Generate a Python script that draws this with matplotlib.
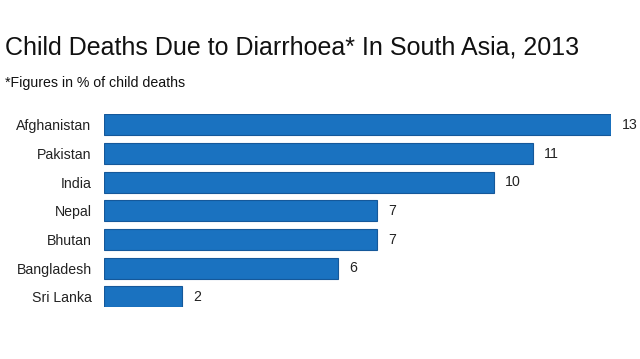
import matplotlib.pyplot as plt
import numpy as np

plt.rcParams['font.family'] = ['Liberation Sans', 'DejaVu Sans']

countries = ["Afghanistan", "Pakistan", "India", "Nepal", "Bhutan", "Bangladesh", "Sri Lanka"]
deaths = [13, 11, 10, 7, 7, 6, 2]

fig = plt.figure(figsize=(6.4, 3.59), dpi=100)
ax = fig.add_axes([104 / 640, 1 - 307.3 / 359, 507 / 640, (307.3 - 114.5) / 359])

y = np.arange(len(countries))
ax.barh(y, deaths, height=0.73, color='#1a72c0', edgecolor='#15589a', linewidth=0.8)
ax.set_xlim(0, 13)
ax.set_ylim(len(countries) - 1 + 0.365, -0.365)

for yi, v in zip(y, deaths):
    ax.annotate(str(v), (v, yi), xytext=(8, 0), textcoords='offset points',
                va='center', ha='left', fontsize=10.2, color='#222222')

ax.set_yticks(y)
ax.set_yticklabels(countries, fontsize=10.2, color='#222222')
ax.tick_params(axis='y', length=0, pad=9)
ax.set_xticks([])
for s in ax.spines.values():
    s.set_visible(False)

fig.text(5 / 640, 1 - 55 / 359, "Child Deaths Due to Diarrhoea* In South Asia, 2013",
         fontsize=18, color='#111111', ha='left', va='baseline')
fig.text(5 / 640, 1 - 86.5 / 359, "*Figures in % of child deaths",
         fontsize=10.2, color='#111111', ha='left', va='baseline')

fig.savefig('out.png', dpi=100, facecolor='white')
